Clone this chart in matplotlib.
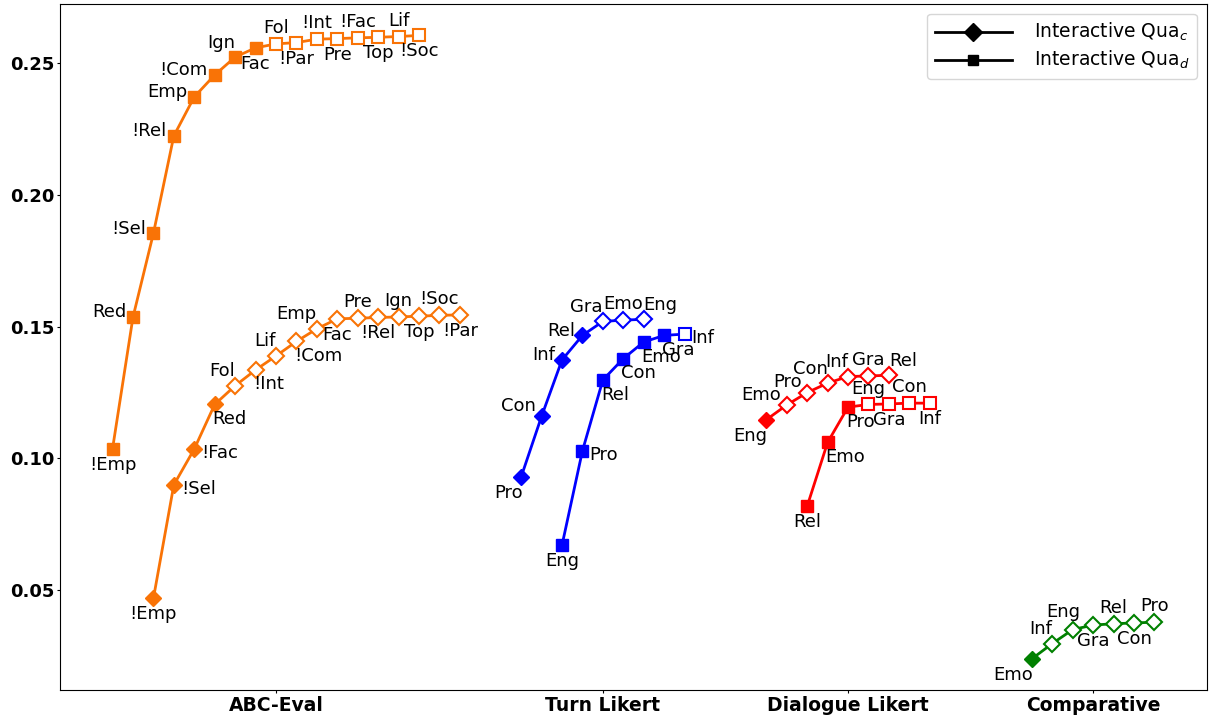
import numpy as np
import matplotlib
matplotlib.use('Agg')
import matplotlib.pyplot as plt
from matplotlib.lines import Line2D

# ---- data ----
groups = ['ABC-Eval', 'Turn Likert', 'Dialogue Likert', 'Comparative']

abc_c_labels = ['!Emp', '!Sel', '!Fac', 'Red', 'Fol', '!Int', 'Lif', '!Com',
                'Emp', 'Fac', 'Pre', '!Rel', 'Ign', 'Top', '!Soc', '!Par']
abc_c_values = [0.0469, 0.0900, 0.1036, 0.1205, 0.1276, 0.1336, 0.1389, 0.1444,
                0.1492, 0.1530, 0.1532, 0.1535, 0.1537, 0.1540, 0.1543, 0.1545]
abc_c_filled = 4

abc_d_labels = ['!Emp', 'Red', '!Sel', '!Rel', 'Emp', '!Com', 'Ign', 'Fac',
                'Fol', '!Par', '!Int', 'Pre', '!Fac', 'Top', 'Lif', '!Soc']
abc_d_values = [0.1037, 0.1536, 0.1854, 0.2224, 0.2372, 0.2455, 0.2523, 0.2558,
                0.2573, 0.2578, 0.2591, 0.2593, 0.2596, 0.2598, 0.2601, 0.2605]
abc_d_filled = 8

turn_c_labels = ['Pro', 'Con', 'Inf', 'Rel', 'Gra', 'Emo', 'Eng']
turn_c_values = [0.0930, 0.1160, 0.1374, 0.1467, 0.1520, 0.1525, 0.1528]
turn_c_filled = 4

turn_d_labels = ['Eng', 'Pro', 'Rel', 'Con', 'Emo', 'Gra', 'Inf']
turn_d_values = [0.0671, 0.1029, 0.1298, 0.1379, 0.1442, 0.1467, 0.1472]
turn_d_filled = 6

dial_c_labels = ['Eng', 'Emo', 'Pro', 'Con', 'Inf', 'Gra', 'Rel']
dial_c_values = [0.1147, 0.1203, 0.1250, 0.1286, 0.1311, 0.1313, 0.1316]
dial_c_filled = 1

dial_d_labels = ['Rel', 'Emo', 'Pro', 'Eng', 'Gra', 'Con', 'Inf']
dial_d_values = [0.0819, 0.1061, 0.1195, 0.1205, 0.1207, 0.1210, 0.1210]
dial_d_filled = 3

comp_c_labels = ['Emo', 'Inf', 'Eng', 'Gra', 'Rel', 'Con', 'Pro']
comp_c_values = [0.0240, 0.0298, 0.0351, 0.0368, 0.0373, 0.0376, 0.0379]
comp_c_filled = 1

# ---- layout / style ----
colors = ['#f97306', 'blue', 'red', 'green']

# (group, labels, values, filled, marker, start x)
series = [
    (0, abc_d_labels, abc_d_values, abc_d_filled, 's', 0),
    (0, abc_c_labels, abc_c_values, abc_c_filled, 'D', 2),
    (1, turn_c_labels, turn_c_values, turn_c_filled, 'D', 20),
    (1, turn_d_labels, turn_d_values, turn_d_filled, 's', 22),
    (2, dial_c_labels, dial_c_values, dial_c_filled, 'D', 32),
    (2, dial_d_labels, dial_d_values, dial_d_filled, 's', 34),
    (3, comp_c_labels, comp_c_values, comp_c_filled, 'D', 45),
]

# where each annotation sits relative to its marker
label_pos = [
    ['B', 'L', 'L', 'L', 'L', 'L', 'AL', 'B', 'A', 'B', 'A', 'B', 'A', 'B', 'A', 'B'],
    ['B', 'R', 'R', 'BR', 'AL', 'BR', 'AL', 'BR', 'AL', 'B', 'A', 'B', 'A', 'B', 'A', 'B'],
    ['BL', 'UL', 'L', 'L', 'AL', 'A', 'AR'],
    ['B', 'R', 'BR', 'BR', 'BR', 'BR', 'R'],
    ['BL', 'UL', 'UL', 'AL', 'AL', 'A', 'AR'],
    ['B', 'BR', 'BR', 'A', 'B', 'A', 'B'],
    ['BL', 'AL', 'AM', 'B', 'A', 'B', 'A'],
]

offsets = {
    'L': ((-5, 3.5), 'right', 'center'),
    'UL': ((-4, 1), 'right', 'bottom'),
    'R': ((5, -3), 'left', 'center'),
    'A': ((0, 5), 'center', 'bottom'),
    'AM': ((-7, 6), 'center', 'bottom'),
    'B': ((0, -5), 'center', 'top'),
    'AL': ((0, 4), 'right', 'bottom'),
    'AR': ((0, 4), 'left', 'bottom'),
    'BL': ((1, -5), 'right', 'top'),
    'BR': ((-1.5, -4), 'left', 'top'),
}


def main():
    fig, ax = plt.subplots(figsize=(12.09, 7.15), dpi=100)
    fig.subplots_adjust(left=0.05, right=0.998, top=0.994, bottom=0.035)

    group_x = {}
    for k, (g, labels, values, n_fill, marker, start) in enumerate(series):
        c = colors[g]
        x = np.arange(start, start + len(values))
        y = np.asarray(values)
        group_x.setdefault(g, []).extend(x.tolist())

        ax.plot(x, y, '-', color=c, lw=2, zorder=2)
        ax.plot(x[:n_fill], y[:n_fill], marker, ls='none', color=c, ms=8, zorder=3)
        ax.plot(x[n_fill:], y[n_fill:], marker, ls='none', mfc='white', mec=c,
                mew=1.5, ms=8, zorder=3)

        for xi, yi, lab, pos in zip(x, y, labels, label_pos[k]):
            off, ha, va = offsets[pos]
            ax.annotate(lab, (xi, yi), xytext=off, textcoords='offset points',
                        ha=ha, va=va, fontsize=13)

    ticks = [(min(v) + max(v)) // 2 for g, v in sorted(group_x.items())]
    ax.set_xticks(ticks)
    ax.set_xticklabels(groups, fontsize=13.5, fontweight='bold')
    ax.set_yticks([0.05, 0.10, 0.15, 0.20, 0.25])
    ax.set_yticklabels(['0.05', '0.10', '0.15', '0.20', '0.25'],
                       fontsize=13, fontweight='bold')
    ax.tick_params(length=2, pad=2.5)

    handles = [Line2D([0], [0], color='k', lw=2, marker='D', ms=9),
               Line2D([0], [0], color='k', lw=2, marker='s', ms=6.5)]
    ax.legend(handles, [r'Interactive Qua$_c$', r'Interactive Qua$_d$'],
              loc='upper right', fontsize=13.5, handlelength=4.1,
              labelspacing=0.3, handletextpad=1.2, borderpad=0.4)

    fig.savefig('out.png', dpi=100)


if __name__ == '__main__':
    main()
